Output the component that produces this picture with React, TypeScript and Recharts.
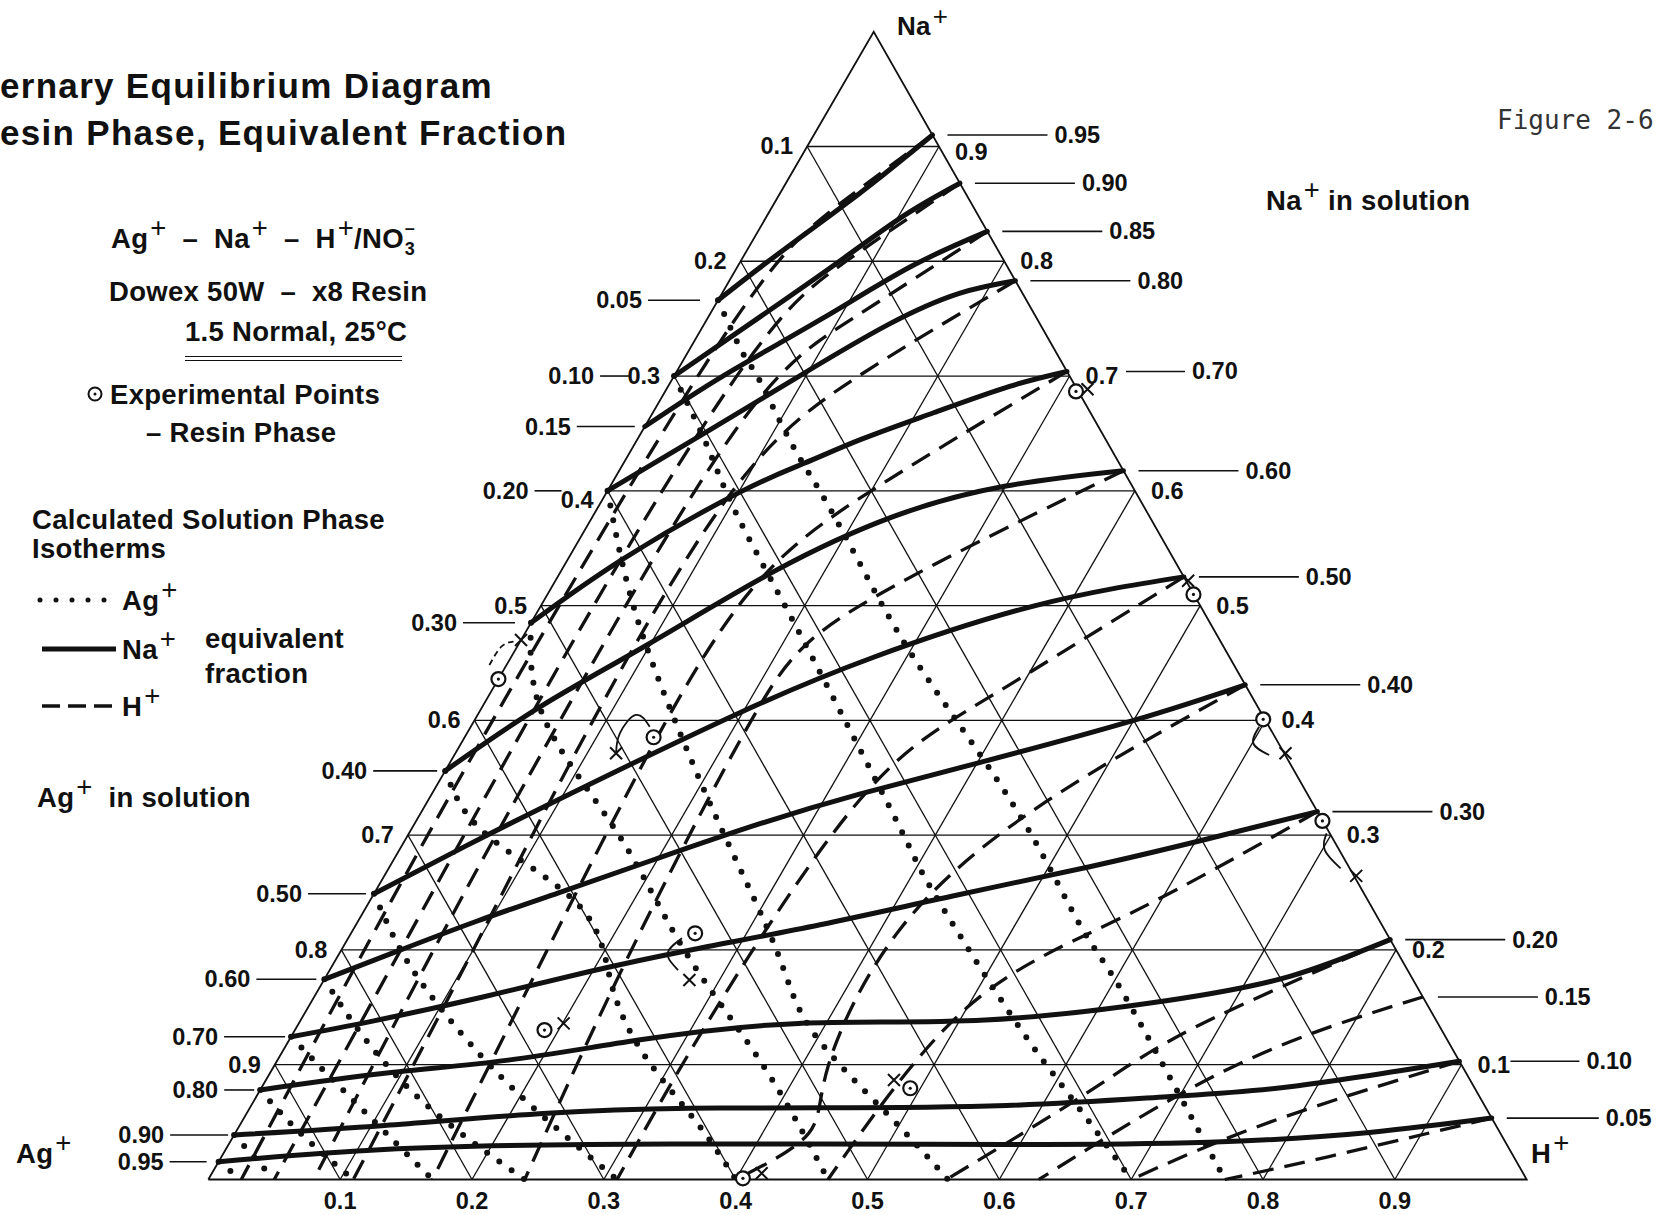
import React from "react"
import { ScatterChart, Scatter, XAxis, YAxis } from "recharts"

const FONT = "'Liberation Sans', Arial, Helvetica, sans-serif"
const INK = "#111"
const SKEW = 0.5047 // apex sits slightly right of the base midpoint in the scan

// resin-phase equivalent fractions, [Na, H]; Ag = 1 - Na - H
type Pt = [number, number]

// Na+ solution isotherms (solid)
const na95: Pt[] = [[0.766, 0], [0.8, 0.021], [0.84, 0.048], [0.875, 0.07], [0.91, 0.09]]
const na90: Pt[] = [[0.7, 0], [0.75, 0.038], [0.8, 0.075], [0.84, 0.104], [0.868, 0.132]]
const na85: Pt[] = [[0.656, 0], [0.7, 0.037], [0.75, 0.087], [0.795, 0.131], [0.826, 0.174]]
const na80: Pt[] = [[0.6, 0], [0.65, 0.048], [0.7, 0.095], [0.745, 0.14], [0.772, 0.18], [0.783, 0.217]]
const na70: Pt[] = [[0.485, 0], [0.541, 0.042], [0.598, 0.1], [0.624, 0.137], [0.645, 0.17], [0.668, 0.213], [0.691, 0.259], [0.704, 0.296]]
const na60: Pt[] = [[0.356, 0], [0.412, 0.044], [0.467, 0.099], [0.53, 0.162], [0.5775, 0.228], [0.604, 0.299], [0.6175, 0.3825]]
const na50: Pt[] = [[0.249, 0], [0.29, 0.048], [0.34, 0.11], [0.406, 0.197], [0.455, 0.275], [0.5, 0.375], [0.525, 0.475]]
const na40: Pt[] = [[0.1744, 0], [0.2, 0.045], [0.225, 0.09], [0.25, 0.14], [0.28, 0.2], [0.31, 0.262], [0.336, 0.325], [0.363, 0.401], [0.4, 0.5], [0.431, 0.569]]
const na30: Pt[] = [[0.1244, 0], [0.138, 0.055], [0.159, 0.128], [0.181, 0.197], [0.2, 0.265], [0.222, 0.352], [0.247, 0.44], [0.2725, 0.531], [0.296, 0.606], [0.3205, 0.6795]]
const na20: Pt[] = [[0.078, 0], [0.0925, 0.087], [0.104, 0.175], [0.1215, 0.265], [0.136, 0.379], [0.139, 0.519], [0.156, 0.649], [0.177, 0.731], [0.209, 0.791]]
const na10: Pt[] = [[0.0388, 0], [0.047, 0.11], [0.0577, 0.228], [0.062, 0.3335], [0.0625, 0.4326], [0.0645, 0.5728], [0.0721, 0.691], [0.081, 0.781], [0.103, 0.897]]
const na05: Pt[] = [[0.0155, 0], [0.0262, 0.12], [0.0305, 0.273], [0.031, 0.448], [0.0305, 0.588], [0.0325, 0.7425], [0.041, 0.86], [0.0535, 0.9465]]

// Ag+ solution isotherms (dotted)
const ag05: Pt[] = [[0.766, 0], [0.72, 0.042], [0.697, 0.066], [0.644, 0.116], [0.598, 0.163], [0.537, 0.223], [0.458, 0.302], [0.368, 0.401], [0.29, 0.483], [0.22, 0.551], [0.174, 0.6], [0.0925, 0.681], [0, 0.771]]
const ag10: Pt[] = [[0.7, 0], [0.64, 0.055], [0.583, 0.105], [0.5, 0.185], [0.4, 0.281], [0.3, 0.376], [0.249, 0.425], [0.142, 0.538], [0.07, 0.62], [0, 0.7]]
const ag20: Pt[] = [[0.6, 0], [0.5, 0.07], [0.4, 0.152], [0.3, 0.24], [0.2, 0.33], [0.13, 0.392], [0.058, 0.485], [0, 0.561]]
const ag30: Pt[] = [[0.485, 0], [0.4, 0.0535], [0.3, 0.16], [0.2, 0.26], [0.1, 0.37], [0, 0.47]]
const ag40: Pt[] = [[0.356, 0], [0.3, 0.06], [0.2377, 0.162], [0.17, 0.22], [0.107, 0.2775], [0.05, 0.345], [0, 0.4]]
const ag50: Pt[] = [[0.249, 0], [0.2, 0.045], [0.15, 0.1], [0.08, 0.19], [0, 0.31]]
const ag60: Pt[] = [[0.1744, 0], [0.12, 0.06], [0.06, 0.14], [0, 0.24]]
const ag70: Pt[] = [[0.1244, 0], [0.08, 0.06], [0, 0.17]]
const ag80: Pt[] = [[0.078, 0], [0.04, 0.05], [0, 0.11]]
const ag90: Pt[] = [[0.0388, 0], [0, 0.05]]
const ag95: Pt[] = [[0.0155, 0], [0, 0.025]]

// H+ solution isotherms (dashed)
const h05: Pt[] = [[0.91, 0.09], [0.85, 0.05], [0.78, 0.025], [0.6, 0.015], [0.3, 0.015], [0, 0.025]]
const h10: Pt[] = [[0.868, 0.132], [0.8, 0.08], [0.72, 0.05], [0.5, 0.04], [0.2, 0.045], [0, 0.05]]
const h15: Pt[] = [[0.826, 0.174], [0.75, 0.11], [0.65, 0.07], [0.4, 0.065], [0.2, 0.07], [0, 0.08]]
const h20: Pt[] = [[0.783, 0.217], [0.7, 0.14], [0.6, 0.095], [0.4, 0.09], [0.2, 0.1], [0, 0.11]]
const h30: Pt[] = [[0.704, 0.296], [0.6, 0.2], [0.5, 0.15], [0.3, 0.15], [0, 0.17]]
const h40: Pt[] = [[0.6175, 0.3825], [0.5, 0.242], [0.4, 0.21], [0.2, 0.22], [0, 0.24]]
const h50: Pt[] = [[0.525, 0.475], [0.42, 0.38], [0.33, 0.327], [0.15, 0.31], [0, 0.31]]
const h60: Pt[] = [[0.431, 0.569], [0.33, 0.47], [0.22, 0.415], [0.1, 0.42], [0.04, 0.435], [0, 0.4]]
const h70: Pt[] = [[0.3205, 0.6795], [0.23, 0.58], [0.15, 0.5], [0, 0.47]]
const h80: Pt[] = [[0.209, 0.791], [0.133, 0.682], [0.075, 0.628], [0, 0.56]]
const h85: Pt[] = [[0.159, 0.841], [0.1, 0.73], [0, 0.63]]
const h90: Pt[] = [[0.103, 0.897], [0.05, 0.78], [0, 0.7]]
const h95: Pt[] = [[0.0535, 0.9465], [0.02, 0.84], [0, 0.771]]

// experimental resin points and their calculated partners
const expCircles: Pt[] = [[0.6866, 0.3116], [0.5097, 0.49], [0.4009, 0.5978], [0.3124, 0.6874], [0.436, 0], [0.3853, 0.1433], [0.2145, 0.261], [0.1302, 0.1893], [0.0795, 0.4923], [0.001, 0.405]]
const expCrosses: Pt[] = [[0.6885, 0.3194], [0.5217, 0.4799], [0.3714, 0.6296], [0.2645, 0.7372], [0.47, 0], [0.3713, 0.1219], [0.1738, 0.2772], [0.136, 0.2009], [0.0867, 0.4763], [0.0054, 0.417]]

// little hand-drawn arrows from the measured point towards the calculated one
const arrowA: Pt[] = [[0.3945, 0.598], [0.38, 0.6009], [0.3698, 0.618]]
const arrowB: Pt[] = [[0.3016, 0.696], [0.287, 0.702], [0.2711, 0.722]]
const arrowC: Pt[] = [[0.3713, 0.1219], [0.3888, 0.116], [0.4047, 0.12], [0.3945, 0.1357]]
const arrowD: Pt[] = [[0.2101, 0.2533], [0.197, 0.249], [0.1825, 0.2642]]
const arrowE: Pt[] = [[0.4482, -0.013], [0.4642, -0.012], [0.4686, -0.005]]

// axis ticks and isotherm labels
const gridSteps = [0.1, 0.2, 0.3, 0.4, 0.5, 0.6, 0.7, 0.8, 0.9]
const naSolLabels = ["0.95", "0.90", "0.85", "0.80", "0.70", "0.60", "0.50", "0.40", "0.30", "0.20", "0.15", "0.10", "0.05"]
const naSolEdge = [0.91, 0.868, 0.826, 0.783, 0.704, 0.6175, 0.525, 0.431, 0.3205, 0.209, 0.159, 0.103, 0.0535]
const agSolLabels = ["0.05", "0.10", "0.15", "0.20", "0.30", "0.40", "0.50", "0.60", "0.70", "0.80", "0.90", "0.95"]
const agSolEdge = [0.766, 0.7, 0.656, 0.6, 0.485, 0.356, 0.249, 0.1744, 0.1244, 0.078, 0.0388, 0.0155]

// leader placement (px): [gap from edge, length]
const agLeader = [[18, 52], [44, 30], [10, 58], [46, 27], [16, 52], [8, 64], [8, 58], [8, 60], [6, 61], [6, 30], [6, 58], [12, 37]]
const naLeader = [[15, 100], [15, 100], [15, 100], [15, 100], [59, 59], [15, 100], [15, 100], [15, 100], [15, 100], [15, 100], [15, 100], [51, 69], [15, 92]]

const toXY = (p: Pt) => ({ x: p[1] + SKEW * p[0], y: p[0] })

const naCurves = [na95, na90, na85, na80, na70, na60, na50, na40, na30, na20, na10, na05]
const agCurves = [ag05, ag10, ag20, ag30, ag40, ag50, ag60, ag70, ag80, ag90, ag95]
const hCurves = [h05, h10, h15, h20, h30, h40, h50, h60, h70, h80, h85, h90, h95]
const arrows = [arrowA, arrowB, arrowC, arrowD]

const gridSegs: Pt[][] = [
  [[0, 0], [0, 1], [1, 0], [0, 0]],
  ...gridSteps.map((s) => [[s, 0], [s, 1 - s]] as Pt[]),
  ...gridSteps.map((s) => [[0, s], [1 - s, s]] as Pt[]),
  ...gridSteps.map((s) => [[1 - s, 0], [0, 1 - s]] as Pt[]),
]

const noDot = () => <g />

const labelStyle = { fontFamily: FONT, fontWeight: 700, fontSize: 23.5, fill: INK }

function Txt({ x, y, size = 27.5, children, style }: any) {
  return (
    <div
      style={{
        position: "absolute",
        left: x,
        top: y - size * 0.49,
        fontSize: size,
        lineHeight: 1,
        fontFamily: FONT,
        fontWeight: 700,
        color: INK,
        whiteSpace: "nowrap",
        letterSpacing: 0.3,
        ...style,
      }}
    >
      {children}
    </div>
  )
}

const Plus = () => (
  <span style={{ fontWeight: 400, fontSize: "1em", position: "relative", top: "-0.4em", marginLeft: 2 }}>+</span>
)

export default function App() {
  const leftTicks = gridSteps.map((s) => ({ ...toXY([1 - s, 0]), text: s.toFixed(1), s }))
  const rightTicks = gridSteps.map((s) => ({ ...toXY([s, 1 - s]), text: s.toFixed(1), s }))
  const bottomTicks = gridSteps.map((s) => ({ ...toXY([0, s]), text: s.toFixed(1) }))
  const naSol = naSolLabels.map((t, i) => ({ ...toXY([naSolEdge[i], 1 - naSolEdge[i]]), text: t, i }))
  const agSol = agSolLabels.map((t, i) => ({ ...toXY([agSolEdge[i], 0]), text: t, i }))

  return (
    <div style={{ position: "relative", width: 1659, height: 1215, background: "#fff", overflow: "hidden" }}>
      <style>{`body{margin:0;background:#fff}`}</style>
      <ScatterChart width={1659} height={1215} margin={{ top: 31.7, right: 132.3, bottom: 35.5, left: 208.3 }}>
        <XAxis type="number" dataKey="x" domain={[0, 1]} hide />
        <YAxis type="number" dataKey="y" domain={[0, 1]} hide />
        {gridSegs.map((seg, i) => (
          <Scatter
            key={`g${i}`}
            data={seg.map(toXY)}
            line={{ stroke: INK, strokeWidth: i === 0 ? 1.8 : 1.3 }}
            shape={noDot}
            isAnimationActive={false}
          />
        ))}
        {hCurves.map((c, i) => (
          <Scatter
            key={`h${i}`}
            data={c.map(toXY)}
            line={{ stroke: INK, strokeWidth: 3.3, strokeDasharray: "21 11" }}
            lineJointType="natural"
            shape={noDot}
            isAnimationActive={false}
          />
        ))}
        {agCurves.map((c, i) => (
          <Scatter
            key={`a${i}`}
            data={c.map(toXY)}
            line={{ stroke: INK, strokeWidth: 6, strokeDasharray: "0 15", strokeLinecap: "round" }}
            lineJointType="natural"
            shape={noDot}
            isAnimationActive={false}
          />
        ))}
        {naCurves.map((c, i) => (
          <Scatter
            key={`n${i}`}
            data={c.map(toXY)}
            line={{ stroke: INK, strokeWidth: 5, strokeLinecap: "round" }}
            lineJointType="natural"
            shape={noDot}
            isAnimationActive={false}
          />
        ))}
        {arrows.map((c, i) => (
          <Scatter
            key={`r${i}`}
            data={c.map(toXY)}
            line={{ stroke: INK, strokeWidth: 1.8 }}
            lineJointType="natural"
            shape={noDot}
            isAnimationActive={false}
          />
        ))}
        <Scatter
          data={arrowE.map(toXY)}
          line={{ stroke: INK, strokeWidth: 1.8, strokeDasharray: "6 4" }}
          lineJointType="natural"
          shape={noDot}
          isAnimationActive={false}
        />
        <Scatter
          data={expCircles.map(toXY)}
          isAnimationActive={false}
          shape={(p: any) => (
            <g>
              <circle cx={p.cx} cy={p.cy} r={7} fill="#fff" stroke={INK} strokeWidth={2.2} />
              <circle cx={p.cx} cy={p.cy} r={1.6} fill={INK} />
            </g>
          )}
        />
        <Scatter
          data={expCrosses.map(toXY)}
          isAnimationActive={false}
          shape={(p: any) => (
            <path
              d={`M${p.cx - 6},${p.cy - 6}L${p.cx + 6},${p.cy + 6}M${p.cx - 6},${p.cy + 6}L${p.cx + 6},${p.cy - 6}`}
              stroke={INK}
              strokeWidth={2}
            />
          )}
        />
        <Scatter
          data={leftTicks}
          isAnimationActive={false}
          shape={(p: any) => (
            <text x={p.cx - 14} y={p.cy + (p.payload.s === 0.4 ? 9 : 0)} textAnchor="end" dominantBaseline="central" {...labelStyle}>
              {p.payload.text}
            </text>
          )}
        />
        <Scatter
          data={rightTicks}
          isAnimationActive={false}
          shape={(p: any) => (
            <text x={p.cx + 16} y={p.cy + (p.payload.s === 0.9 ? 6 : 0)} textAnchor="start" dominantBaseline="central" {...labelStyle}>
              {p.payload.text}
            </text>
          )}
        />
        <Scatter
          data={bottomTicks}
          isAnimationActive={false}
          shape={(p: any) => (
            <text x={p.cx} y={p.cy + 21} textAnchor="middle" dominantBaseline="central" {...labelStyle}>
              {p.payload.text}
            </text>
          )}
        />
        <Scatter
          data={naSol}
          isAnimationActive={false}
          shape={(p: any) => {
            const [g, len] = naLeader[p.payload.i]
            return (
              <g>
                <line x1={p.cx + g} x2={p.cx + g + len} y1={p.cy} y2={p.cy} stroke={INK} strokeWidth={1.6} />
                <text x={p.cx + g + len + 7} y={p.cy} dominantBaseline="central" {...labelStyle}>
                  {p.payload.text}
                </text>
              </g>
            )
          }}
        />
        <Scatter
          data={agSol}
          isAnimationActive={false}
          shape={(p: any) => {
            const [g, len] = agLeader[p.payload.i]
            return (
              <g>
                <line x1={p.cx - g} x2={p.cx - g - len} y1={p.cy} y2={p.cy} stroke={INK} strokeWidth={1.6} />
                <text x={p.cx - g - len - 6} y={p.cy} textAnchor="end" dominantBaseline="central" {...labelStyle}>
                  {p.payload.text}
                </text>
              </g>
            )
          }}
        />
      </ScatterChart>

      <Txt x={0} y={85} size={35} style={{ letterSpacing: 1.3 }}>ernary Equilibrium Diagram</Txt>
      <Txt x={0} y={132} size={35} style={{ letterSpacing: 1.3 }}>esin Phase, Equivalent Fraction</Txt>

      <Txt x={111} y={238}>
        Ag<Plus /> &nbsp;–&nbsp; Na<Plus /> &nbsp;–&nbsp; H<Plus />/NO
        <span style={{ display: "inline-block", position: "relative", width: 14, height: 10 }}>
          <span style={{ position: "absolute", left: 1, top: -19, fontSize: 18 }}>–</span>
          <span style={{ position: "absolute", left: 1, top: 2, fontSize: 18 }}>3</span>
        </span>
      </Txt>
      <Txt x={109} y={291}>Dowex 50W &nbsp;–&nbsp; x8 Resin</Txt>
      <Txt x={185} y={331}>1.5 Normal, 25°C</Txt>
      <div style={{ position: "absolute", left: 185, top: 355.5, width: 217, borderTop: "1.5px solid #111" }} />
      <div style={{ position: "absolute", left: 185, top: 360, width: 217, borderTop: "1.5px solid #111" }} />
      <svg style={{ position: "absolute", left: 86, top: 385 }} width={18} height={18}>
        <circle cx={9} cy={9} r={6.5} fill="none" stroke={INK} strokeWidth={2} />
        <circle cx={9} cy={9} r={1.5} fill={INK} />
      </svg>
      <Txt x={110} y={394}>Experimental Points</Txt>
      <Txt x={146} y={432}>– Resin Phase</Txt>

      <Txt x={32} y={519}>Calculated Solution Phase</Txt>
      <Txt x={32} y={548}>Isotherms</Txt>

      <svg style={{ position: "absolute", left: 30, top: 585 }} width={100} height={140}>
        <line x1={10} x2={82} y1={15} y2={15} stroke={INK} strokeWidth={5} strokeDasharray="0 16" strokeLinecap="round" />
        <line x1={12} x2={86} y1={64} y2={64} stroke={INK} strokeWidth={5} />
        <line x1={12} x2={86} y1={121} y2={121} stroke={INK} strokeWidth={3.5} strokeDasharray="18 8" />
      </svg>
      <Txt x={122} y={600}>Ag<Plus /></Txt>
      <Txt x={122} y={649}>Na<Plus /></Txt>
      <Txt x={122} y={706}>H<Plus /></Txt>
      <Txt x={205} y={638}>equivalent</Txt>
      <Txt x={205} y={673}>fraction</Txt>

      <Txt x={37} y={797}>Ag<Plus /> &nbsp;in solution</Txt>
      <Txt x={1266} y={200}>Na<Plus /> in solution</Txt>
      <Txt x={897} y={26} size={26}>Na<Plus /></Txt>
      <Txt x={16} y={1153}>Ag<Plus /></Txt>
      <Txt x={1531} y={1153}>H<Plus /></Txt>

      <Txt
        x={1497}
        y={120}
        size={26}
        style={{ fontFamily: "'DejaVu Sans Mono', monospace", fontWeight: 400, color: "#333", letterSpacing: 0 }}
      >
        Figure 2-6
      </Txt>
    </div>
  )
}
